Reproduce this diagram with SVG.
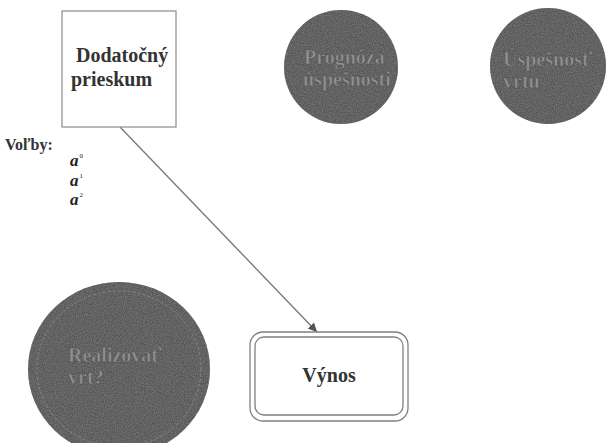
<svg xmlns="http://www.w3.org/2000/svg" width="612" height="443" viewBox="0 0 612 443">
  <defs>
    <style>
      text { font-family: 'Liberation Serif', 'DejaVu Serif', serif; }
      .lbl { font-weight: bold; font-size: 20px; fill: #333; }
      .dim { font-weight: bold; font-size: 20px; fill: #909090; stroke: #474747; stroke-width: 0.4; }
      .box { fill: #fff; stroke: #8a8a8a; stroke-width: 1.2; }
      .rbox { fill: none; stroke: #808080; stroke-width: 1.3; }
      .disc { fill: #565656; filter: url(#grain); }
      .ring { fill: none; stroke: #858585; stroke-width: 1; stroke-dasharray: 3 2; }
      .conn { stroke: #7a7a7a; stroke-width: 1.4; fill: none; }
      .var { font-weight: bold; font-style: italic; font-size: 17px; fill: #222; }
      .sup { font-weight: normal; font-style: normal; font-size: 7px; }
    </style>
    <filter id="grain" x="0" y="0" width="100%" height="100%">
      <feTurbulence type="fractalNoise" baseFrequency="0.9" numOctaves="2" seed="3" result="n"/>
      <feColorMatrix in="n" type="matrix" values="0 0 0 0 0.2  0 0 0 0 0.2  0 0 0 0 0.2  0 0 0 1.6 -0.5" result="d"/>
      <feComposite in="d" in2="SourceGraphic" operator="in" result="dots"/>
      <feMerge>
        <feMergeNode in="SourceGraphic"/>
        <feMergeNode in="dots"/>
      </feMerge>
    </filter>
    <marker id="head" viewBox="0 0 10 10" refX="10" refY="5" markerWidth="9" markerHeight="9" markerUnits="userSpaceOnUse" orient="auto">
      <path d="M0,0 L10,5 L0,10 z" fill="#555"/>
    </marker>
  </defs>

  <rect width="612" height="443" fill="#fff"/>

  <!-- connectors -->
  <g id="connectors">
    <line class="conn" x1="120" y1="127" x2="317" y2="332" marker-end="url(#head)"/>
  </g>

  <!-- survey decision box -->
  <g id="node-prieskum">
    <rect class="box" x="62" y="11" width="114" height="116"/>
    <text class="lbl" x="76" y="62">Dodatočný</text>
    <text class="lbl" x="71" y="86">prieskum</text>
  </g>

  <!-- forecast chance node -->
  <g id="node-prognoza">
    <circle class="disc" cx="341" cy="67" r="57"/>
    <text class="dim" x="304" y="64">Prognóza</text>
    <text class="dim" x="303" y="86">úspešnosti</text>
  </g>

  <!-- drilling success chance node -->
  <g id="node-uspesnost">
    <circle class="disc" cx="548" cy="66" r="58"/>
    <text class="dim" x="503" y="66">Úspešnosť</text>
    <text class="dim" x="503" y="88">vrtu</text>
  </g>

  <!-- options list -->
  <g id="volby">
    <text class="lbl" x="5" y="150" style="font-size:16px">Voľby:</text>
    <text class="var" x="70" y="166">a<tspan class="sup" dx="1" dy="-8">0</tspan></text>
    <text class="var" x="70" y="185.5">a<tspan class="sup" dx="1" dy="-8">1</tspan></text>
    <text class="var" x="70" y="205">a<tspan class="sup" dx="1" dy="-8">2</tspan></text>
  </g>

  <!-- drilling decision node -->
  <g id="node-realizovat">
    <ellipse class="disc" cx="119" cy="369" rx="91" ry="87"/>
    <ellipse class="ring" cx="119" cy="369" rx="82" ry="78"/>
    <text class="dim" x="68" y="362">Realizovať</text>
    <text class="dim" x="68" y="384">vrt?</text>
  </g>

  <!-- payoff node -->
  <g id="node-vynos">
    <rect class="rbox" x="250" y="332" width="158" height="89" rx="13"/>
    <rect class="rbox" x="255" y="337" width="148" height="78" rx="9"/>
    <text class="lbl" x="329" y="382" text-anchor="middle">Výnos</text>
  </g>
</svg>
